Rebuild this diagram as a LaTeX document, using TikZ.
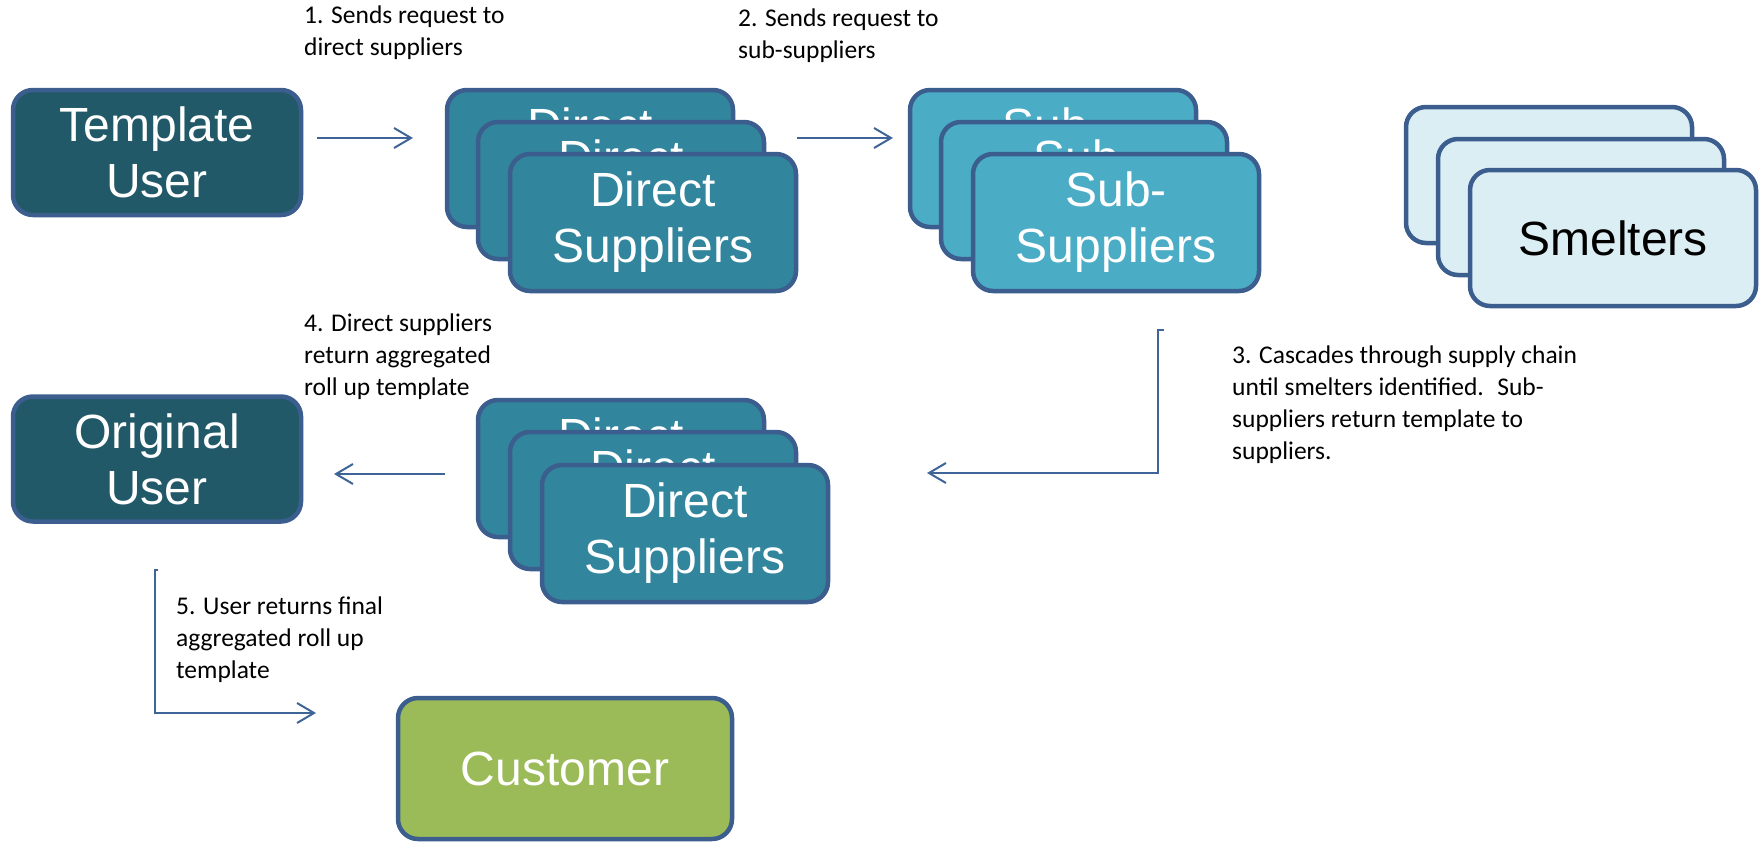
\documentclass[tikz,border=0pt]{standalone}
\usepackage{fontspec}
\setmainfont{Liberation Sans}
\newfontfamily\notefont{Carlito}
\usetikzlibrary{arrows.meta}
\definecolor{bordc}{HTML}{3B5E8E}
\definecolor{arrc}{HTML}{3F6498}
\definecolor{tufill}{HTML}{215968}
\definecolor{dsfill}{HTML}{31859C}
\definecolor{subfill}{HTML}{4BACC6}
\definecolor{smfill}{HTML}{DBEEF3}
\definecolor{cufill}{HTML}{9BBB59}
\tikzset{
  box/.style={draw=bordc, line width=4.5pt, rounded corners=20pt, align=center,
    text=white, inner sep=0pt,
    font=\fontsize{48}{56}\selectfont},
  userbox/.style={box, fill=tufill, minimum width=288pt, minimum height=125pt},
  card/.style={box, minimum width=286pt, minimum height=137pt},
  dscard/.style={card, fill=dsfill},
  subcard/.style={card, fill=subfill},
  smcard/.style={card, fill=smfill, text=black, minimum height=136pt},
  custbox/.style={box, fill=cufill, minimum width=334pt, minimum height=141pt},
  note/.style={anchor=north west, inner sep=0pt, align=left,
    font=\notefont\fontsize{25.5}{32}\selectfont},
  arr/.style={draw=arrc, line width=2pt, -{Straight Barb[length=17pt,width=20pt,line width=2pt]}}
}
\begin{document}
\begin{tikzpicture}[x=1pt,y=-1pt]
\useasboundingbox (0,0) rectangle (1764,843);

% users
\node[userbox] (tu) at (157,152.5) {Template\\User};
\node[userbox] (ou) at (157,459) {Original\\User};

% direct suppliers stack (top)
\node[dscard] (dsa) at (590,158.5) {Direct\\Suppliers};
\node[dscard] (dsb) at (621,190.5) {Direct\\Suppliers};
\node[dscard] (dsc) at (653,222.5) {Direct\\Suppliers};

% sub-suppliers stack
\node[subcard] (sua) at (1053,158.5) {Sub-\\Suppliers};
\node[subcard] (sub) at (1084,190.5) {Sub-\\Suppliers};
\node[subcard] (suc) at (1116,222.5) {Sub-\\Suppliers};

% smelters stack
\node[smcard] (sma) at (1549,175) {Smelters};
\node[smcard] (smb) at (1581,207) {Smelters};
\node[smcard] (smc) at (1613,238) {Smelters};

% direct suppliers stack (bottom)
\node[dscard] (dra) at (621,468.5) {Direct\\Suppliers};
\node[dscard] (drb) at (653,500.5) {Direct\\Suppliers};
\node[dscard] (drc) at (685,533.5) {Direct\\Suppliers};

% customer
\node[custbox] (cu) at (565,768.5) {Customer};

% notes
\node[note] (n1) at (304,6) {1. Sends request to\\direct suppliers};
\node[note] (n2) at (738,9) {2. Sends request to\\sub-suppliers};
\node[note] (n3) at (1232,346) {3. Cascades through supply chain\\until smelters identified.~ Sub-\\suppliers return template to\\suppliers.};
\node[note] (n4) at (304,314) {4. Direct suppliers\\return aggregated\\roll up template};
\node[note] (n5) at (176,597) {5. User returns final\\aggregated roll up\\template};

% connector end points
\coordinate (a1s) at (317,138);
\coordinate (a1e) at (413,138);
\coordinate (a2s) at (797,138);
\coordinate (a2e) at (893,138);
\coordinate (a3t) at (1164,330);
\coordinate (a3s) at (1158,330);
\coordinate (a3k) at (1158,473);
\coordinate (a3e) at (927,473);
\coordinate (a4s) at (445,474);
\coordinate (a4e) at (334,474);
\coordinate (a5t) at (157.5,570);
\coordinate (a5s) at (154.5,570);
\coordinate (a5k) at (154.5,713);
\coordinate (a5e) at (316,713);

\draw[arr] (a1s) -- (a1e);
\draw[arr] (a2s) -- (a2e);
\draw[arr] (a3t) -- (a3s) -- (a3k) -- (a3e);
\draw[arr] (a4s) -- (a4e);
\draw[arr] (a5t) -- (a5s) -- (a5k) -- (a5e);
\end{tikzpicture}
\end{document}
